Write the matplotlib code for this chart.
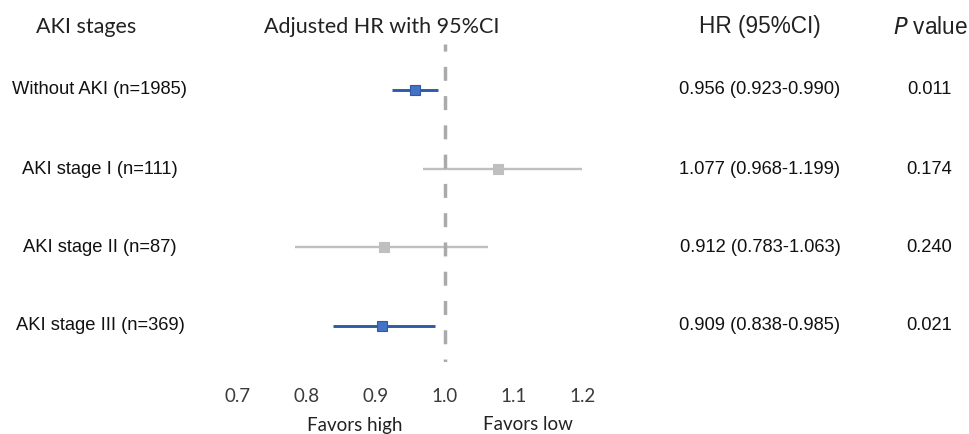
import matplotlib
matplotlib.use("Agg")
import matplotlib.pyplot as plt

# ---- data ----
labels = ["Without AKI (n=1985)", "AKI stage I (n=111)", "AKI stage II (n=87)", "AKI stage III (n=369)"]
hr = [0.956, 1.077, 0.912, 0.909]
lo = [0.923, 0.968, 0.783, 0.838]
hi = [0.990, 1.199, 1.063, 0.985]
hr_text = ["0.956 (0.923-0.990)", "1.077 (0.968-1.199)", "0.912 (0.783-1.063)", "0.909 (0.838-0.985)"]
p_text = ["0.011", "0.174", "0.240", "0.021"]
significant = [True, False, False, True]
xticks = [0.7, 0.8, 0.9, 1.0, 1.1, 1.2]
tick_labels = ["0.7", "0.8", "0.9", "1.0", "1.1", "1.2"]
ref_line = 1.0

W, H = 970, 434
fig = plt.figure(figsize=(W / 100, H / 100), dpi=100)

# axes spans pixel x 238..583 (0.7..1.2), y 44..362
top_px, bot_px = 44, 362
ax = fig.add_axes([238 / W, 1 - bot_px / H, (583 - 238) / W, (bot_px - top_px) / H])
ax.set_xlim(0.7, 1.2)
ax.set_ylim((bot_px - 90) / 78.7, (top_px - 90) / 78.7)
for s in ax.spines.values():
    s.set_visible(False)
ax.set_yticks([])
ax.set_xticks(xticks)
ax.set_xticklabels(tick_labels, fontfamily="Lato", fontsize=13.5, color="#3a3a3a")
ax.tick_params(axis="x", length=0, pad=19)

lw_ref = 2.5
ylo, yhi = ax.get_ylim()
ax.plot([ref_line, ref_line], [yhi, ylo], color="#AAAAAA", lw=lw_ref,
        ls=(2.0, (4.03, 4.4)), zorder=1, solid_capstyle="butt", dash_capstyle="butt")

blue_line = "#2E5AA8"
blue_face = "#4472C4"
gray = "#BFBFBF"
for i in range(len(labels)):
    if significant[i]:
        ax.plot([lo[i], hi[i]], [i, i], color=blue_line, lw=2.1, zorder=2, solid_capstyle="butt", clip_on=False)
        ax.plot([hr[i]], [i], marker="s", ms=7.6, mfc=blue_face, mec=blue_line, mew=0.8, zorder=3, clip_on=False)
    else:
        ax.plot([lo[i], hi[i]], [i, i], color=gray, lw=1.7, zorder=0.5, solid_capstyle="butt", clip_on=False)
        ax.plot([hr[i]], [i], marker="s", ms=7.6, mfc=gray, mec=gray, mew=0.8, zorder=3, clip_on=False)

def fx(px):
    return px / W

def fy(py):
    return 1 - py / H

row_y = [90, 170, 247, 326]

# headers
fig.text(fx(86), fy(27), "AKI stages", ha="center", va="center", fontfamily="Lato", fontsize=15.5, color="#222222")
fig.text(fx(382), fy(27), "Adjusted HR with 95%CI", ha="center", va="center", fontfamily="Lato", fontsize=15.5, color="#222222")
fig.text(fx(760), fy(27), "HR (95%CI)", ha="center", va="center", fontfamily="Liberation Sans", fontsize=16.3, color="#222222")
fig.text(fx(931), fy(27), r"$\it{P}$ value", ha="center", va="center", fontfamily="Liberation Sans", fontsize=16.3, color="#222222")

for i in range(len(labels)):
    fig.text(fx(100), fy(row_y[i]), labels[i], ha="center", va="center", fontfamily="Liberation Sans", fontsize=13.2, color="#111111")
    fig.text(fx(760), fy(row_y[i]), hr_text[i], ha="center", va="center", fontfamily="Liberation Sans", fontsize=13.2, color="#111111")
    fig.text(fx(929), fy(row_y[i]), p_text[i], ha="center", va="center", fontfamily="Liberation Sans", fontsize=13.2, color="#111111")

fig.text(fx(355), fy(425), "Favors high", ha="center", va="center", fontfamily="Lato", fontsize=13.5, color="#222222")
fig.text(fx(528), fy(425), "Favors low", ha="center", va="center", fontfamily="Lato", fontsize=13.5, color="#222222")

fig.savefig("out.png", dpi=100, facecolor="white")
